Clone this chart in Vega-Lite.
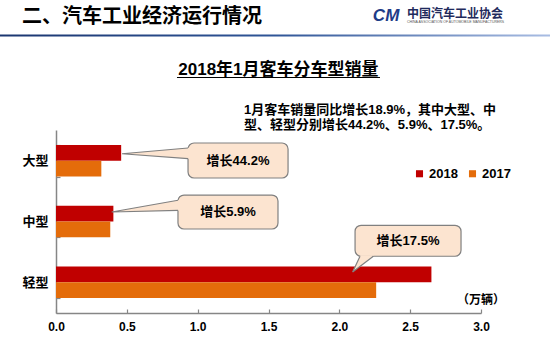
{
 "$schema": "https://vega.github.io/schema/vega-lite/v6.json",
 "width": 425,
 "height": 183,
 "autosize": {"type": "none"},
 "padding": {"left": 56, "top": 130, "right": 69, "bottom": 42},
 "background": "#FFFFFF",
 "config": {"font": "Liberation Sans, Noto Sans CJK SC", "view": {"stroke": null}},
 "layer": [
  {
   "data": {"values": [
    {"type": "大型", "year": "2018", "sales": 0.46},
    {"type": "大型", "year": "2017", "sales": 0.32},
    {"type": "中型", "year": "2018", "sales": 0.405},
    {"type": "中型", "year": "2017", "sales": 0.383},
    {"type": "轻型", "year": "2018", "sales": 2.65},
    {"type": "轻型", "year": "2017", "sales": 2.26}
   ]},
   "mark": {"type": "bar"},
   "encoding": {
    "y": {"field": "type", "type": "nominal", "sort": ["大型", "中型", "轻型"],
     "scale": {"paddingInner": 0.48, "paddingOuter": 0.245},
     "axis": {"title": null, "domainColor": "#868686", "domainWidth": 1.5, "tickColor": "#868686", "tickWidth": 1.2, "tickSize": -4, "tickBand": "extent", "labelFontSize": 13, "labelFontWeight": "bold", "labelColor": "#000000", "labelPadding": 12, "labelAngle": 0}},
    "yOffset": {"field": "year", "type": "nominal", "sort": ["2018", "2017"]},
    "x": {"field": "sales", "type": "quantitative", "scale": {"domain": [0, 3], "nice": false},
     "axis": {"title": null, "values": [0, 0.5, 1, 1.5, 2, 2.5, 3], "format": ".1f", "grid": false, "domainColor": "#868686", "domainWidth": 1.5, "tickColor": "#868686", "tickWidth": 1.2, "tickSize": -4, "labelFontSize": 12, "labelFontWeight": "bold", "labelColor": "#000000", "labelPadding": 12, "labelFlush": false}},
    "color": {"field": "year", "type": "nominal", "scale": {"domain": ["2018", "2017"], "range": ["#C00000", "#E46C0A"]},
     "legend": {"orient": "none", "legendX": 357, "legendY": 37, "direction": "horizontal", "title": null, "symbolType": "square", "symbolSize": 50, "labelFontSize": 13, "labelFontWeight": "bold", "labelColor": "#000000", "labelOffset": 3, "columnPadding": 8, "symbolStrokeWidth": 0}}
   }
  },
  {
   "layer": [
    {
     "data": {"values": [{"x": -0.4, "x2": 3.49, "y": 4.566, "y2": 4.533}]},
     "mark": {"type": "rect", "color": {"gradient": "linear", "x1": 0, "x2": 1, "y1": 0, "y2": 0, "stops": [{"offset": 0, "color": "#1B3670"}, {"offset": 0.5, "color": "#2F5597"}, {"offset": 1, "color": "#A9BDE3"}]}},
     "encoding": {
      "x": {"field": "x", "type": "quantitative", "axis": null},
      "x2": {"field": "x2"},
      "y": {"field": "y", "type": "quantitative", "scale": {"domain": [0, 3], "nice": false, "zero": false}, "axis": null},
      "y2": {"field": "y2"}
     }
    },
    {
     "data": {"values": [{"label": "二、汽车工业经济运行情况", "x": -0.24, "y": 4.85}]},
     "mark": {"type": "text", "align": "left", "baseline": "middle", "fontSize": 20, "fontWeight": "bold", "color": "#000000", "font": "Noto Sans CJK SC"},
     "encoding": {
      "x": {"field": "x", "type": "quantitative", "axis": null},
      "y": {"field": "y", "type": "quantitative", "axis": null},
      "text": {"field": "label"}
     }
    },
    {
     "data": {"values": [{"label": "CM", "x": 2.33, "y": 4.87}]},
     "mark": {"type": "text", "align": "center", "baseline": "middle", "fontSize": 17, "fontWeight": "bold", "fontStyle": "italic", "color": "#1F3C88", "font": "Liberation Sans"},
     "encoding": {
      "x": {"field": "x", "type": "quantitative", "axis": null},
      "y": {"field": "y", "type": "quantitative", "axis": null},
      "text": {"field": "label"}
     }
    },
    {
     "data": {"values": [{"label": "中国汽车工业协会", "x": 2.478, "y": 4.9}]},
     "mark": {"type": "text", "align": "left", "baseline": "middle", "fontSize": 12, "fontWeight": "bold", "color": "#1F2A5C", "font": "Noto Sans CJK SC"},
     "encoding": {
      "x": {"field": "x", "type": "quantitative", "axis": null},
      "y": {"field": "y", "type": "quantitative", "axis": null},
      "text": {"field": "label"}
     }
    },
    {
     "data": {"values": [{"label": "CHINA ASSOCIATION OF AUTOMOBILE MANUFACTURERS", "x": 2.478, "y": 4.77}]},
     "mark": {"type": "text", "align": "left", "baseline": "middle", "fontSize": 3.5, "color": "#555555", "font": "Liberation Sans"},
     "encoding": {
      "x": {"field": "x", "type": "quantitative", "axis": null},
      "y": {"field": "y", "type": "quantitative", "axis": null},
      "text": {"field": "label"}
     }
    },
    {
     "data": {"values": [{"label": "2018年1月客车分车型销量", "x": 1.57, "y": 3.984}]},
     "mark": {"type": "text", "align": "center", "baseline": "middle", "fontSize": 17, "fontWeight": "bold", "color": "#000000"},
     "encoding": {
      "x": {"field": "x", "type": "quantitative", "axis": null},
      "y": {"field": "y", "type": "quantitative", "axis": null},
      "text": {"field": "label"}
     }
    },
    {
     "data": {"values": [{"x": 0.854, "x2": 2.287, "y": 3.861}]},
     "mark": {"type": "rule", "color": "#000000", "strokeWidth": 1.2},
     "encoding": {
      "x": {"field": "x", "type": "quantitative", "axis": null},
      "x2": {"field": "x2"},
      "y": {"field": "y", "type": "quantitative", "axis": null}
     }
    },
    {
     "data": {"values": [
      {"label": "1月客车销量同比增长18.9%，其中大型、中", "x": 1.327, "y": 3.328},
      {"label": "型、轻型分别增长44.2%、5.9%、17.5%。", "x": 1.327, "y": 3.082}
     ]},
     "mark": {"type": "text", "align": "left", "baseline": "middle", "fontSize": 13, "fontWeight": "bold", "color": "#000000"},
     "encoding": {
      "x": {"field": "x", "type": "quantitative", "axis": null},
      "y": {"field": "y", "type": "quantitative", "axis": null},
      "text": {"field": "label"}
     }
    },
    {
     "data": {"values": [{"label": "（万辆）", "x": 3.0, "y": 0.205}]},
     "mark": {"type": "text", "align": "center", "baseline": "middle", "fontSize": 12, "fontWeight": "bold", "color": "#000000"},
     "encoding": {
      "x": {"field": "x", "type": "quantitative", "axis": null},
      "y": {"field": "y", "type": "quantitative", "axis": null},
      "text": {"field": "label"}
     }
    },
    {
     "data": {"values": [
      {"x": 0.932, "x2": 1.638, "y": 2.787, "y2": 2.213},
      {"x": 0.861, "x2": 1.567, "y": 1.934, "y2": 1.377},
      {"x": 2.111, "x2": 2.859, "y": 1.438, "y2": 0.93}
     ]},
     "mark": {"type": "rect", "fill": "#FCE4D0", "stroke": "#808080", "strokeWidth": 1.2, "cornerRadius": 6},
     "encoding": {
      "x": {"field": "x", "type": "quantitative", "axis": null},
      "x2": {"field": "x2"},
      "y": {"field": "y", "type": "quantitative", "axis": null},
      "y2": {"field": "y2"}
     }
    },
    {
     "data": {"values": [
      {"tail": "a", "x": 0.466, "y": 2.611, "y2": 2.611},
      {"tail": "a", "x": 0.942, "y": 2.707, "y2": 2.528},
      {"tail": "b", "x": 0.393, "y": 1.656, "y2": 1.656},
      {"tail": "b", "x": 0.871, "y": 1.851, "y2": 1.681}
     ]},
     "mark": {"type": "area", "fill": "#FCE4D0", "strokeWidth": 0, "orient": "vertical"},
     "encoding": {
      "x": {"field": "x", "type": "quantitative", "axis": null},
      "y": {"field": "y", "type": "quantitative", "axis": null},
      "y2": {"field": "y2"},
      "detail": {"field": "tail"}
     }
    },
    {
     "data": {"values": [
      {"tail": "c", "y": 0.672, "x": 2.094, "x2": 2.094},
      {"tail": "c", "y": 0.946, "x": 2.149, "x2": 2.245}
     ]},
     "mark": {"type": "area", "fill": "#FCE4D0", "strokeWidth": 0, "orient": "horizontal"},
     "encoding": {
      "y": {"field": "y", "type": "quantitative", "axis": null},
      "x": {"field": "x", "type": "quantitative", "axis": null},
      "x2": {"field": "x2"},
      "detail": {"field": "tail"}
     }
    },
    {
     "data": {"values": [
      {"tail": "a", "o": 1, "x": 0.932, "y": 2.705},
      {"tail": "a", "o": 2, "x": 0.466, "y": 2.611},
      {"tail": "a", "o": 3, "x": 0.932, "y": 2.53},
      {"tail": "b", "o": 1, "x": 0.861, "y": 1.848},
      {"tail": "b", "o": 2, "x": 0.393, "y": 1.656},
      {"tail": "b", "o": 3, "x": 0.861, "y": 1.684},
      {"tail": "c", "o": 1, "x": 2.146, "y": 0.93},
      {"tail": "c", "o": 2, "x": 2.094, "y": 0.672},
      {"tail": "c", "o": 3, "x": 2.24, "y": 0.93}
     ]},
     "mark": {"type": "line", "color": "#808080", "strokeWidth": 1.2},
     "encoding": {
      "x": {"field": "x", "type": "quantitative", "axis": null},
      "y": {"field": "y", "type": "quantitative", "axis": null},
      "detail": {"field": "tail"},
      "order": {"field": "o"}
     }
    },
    {
     "data": {"values": [
      {"label": "增长44.2%", "x": 1.285, "y": 2.5},
      {"label": "增长5.9%", "x": 1.214, "y": 1.656},
      {"label": "增长17.5%", "x": 2.485, "y": 1.184}
     ]},
     "mark": {"type": "text", "align": "center", "baseline": "middle", "fontSize": 13, "fontWeight": "bold", "color": "#000000"},
     "encoding": {
      "x": {"field": "x", "type": "quantitative", "axis": null},
      "y": {"field": "y", "type": "quantitative", "axis": null},
      "text": {"field": "label"}
     }
    }
   ]
  }
 ],
 "resolve": {"scale": {"y": "independent"}, "axis": {"x": "independent", "y": "independent"}}
}
